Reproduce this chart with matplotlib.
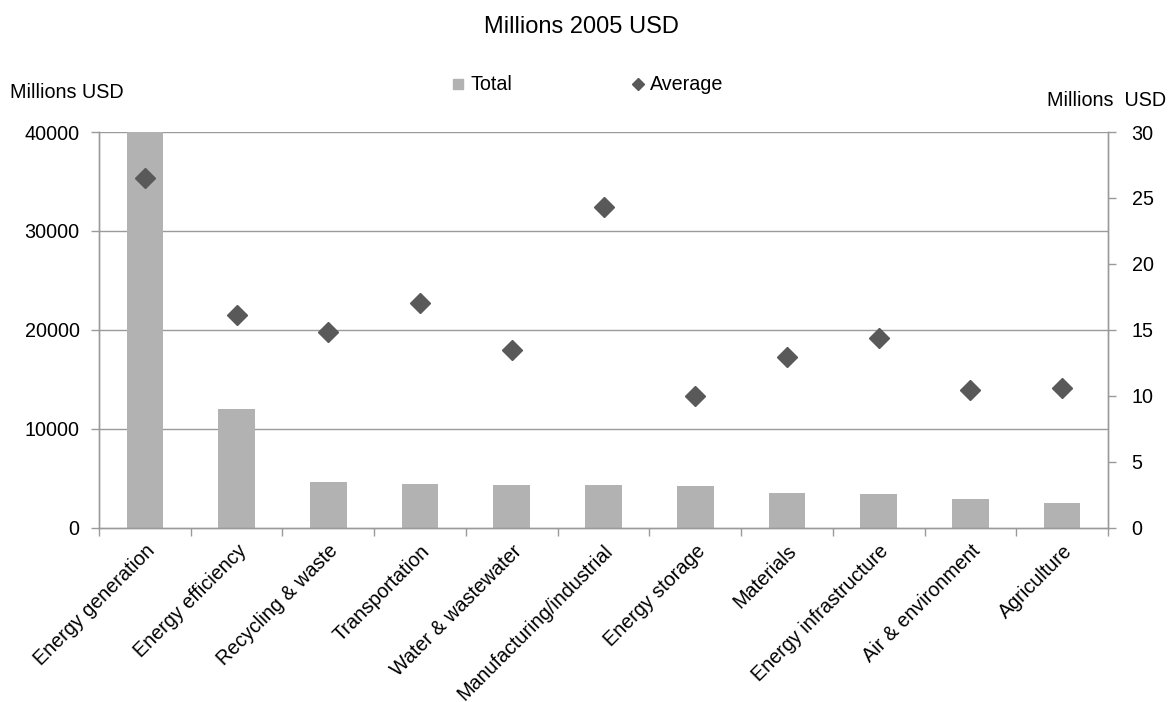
import matplotlib
matplotlib.use("Agg")
import matplotlib.pyplot as plt
from matplotlib.lines import Line2D
import numpy as np

plt.rcParams['font.family'] = ['Liberation Sans', 'DejaVu Sans']

categories = ["Energy generation", "Energy efficiency", "Recycling & waste", "Transportation",
              "Water & wastewater", "Manufacturing/industrial", "Energy storage", "Materials",
              "Energy infrastructure", "Air & environment", "Agriculture"]
total = [40000, 11940, 4580, 4350, 4250, 4250, 4150, 3500, 3370, 2860, 2490]
average = [26.5, 16.1, 14.8, 17.0, 13.45, 24.3, 10.0, 12.95, 14.35, 10.45, 10.6]
left_ticks = [0, 10000, 20000, 30000, 40000]
right_ticks = [0, 5, 10, 15, 20, 25, 30]

bar_color = "#b2b2b2"
dia_color = "#595959"
grid_color = "#9a9a9a"
fs = 14.2

fig = plt.figure(figsize=(11.71, 7.02), dpi=100)
ax = fig.add_axes([99/1171, 1-527.5/702, (1108-99)/1171, (527.5-132)/702])
x = np.arange(len(categories))
ax.bar(x, total, width=0.4, color=bar_color, zorder=2)
ax.set_ylim(0, 40000)
ax.set_xlim(-0.5, len(categories)-0.5)
ax.set_yticks(left_ticks)
ax.set_yticklabels([str(v) for v in left_ticks], fontsize=fs)
for v in left_ticks[1:]:
    ax.axhline(v, color=grid_color, lw=1.0, zorder=1)

ax.set_xticks(x)
ax.set_xticklabels(categories, rotation=45, ha='right', rotation_mode='anchor', fontsize=fs)
ax.tick_params(axis='x', which='major', length=0, pad=10)
ax.set_xticks(np.arange(-0.5, len(categories)), minor=True)
ax.tick_params(axis='x', which='minor', length=6, color=grid_color, width=1.0, direction='out')
ax.tick_params(axis='y', length=6, color=grid_color, width=1.0, pad=8)
for s in ['left', 'bottom', 'right']:
    ax.spines[s].set_color(grid_color)
    ax.spines[s].set_linewidth(1.0)
ax.spines['top'].set_visible(False)

ax2 = ax.twinx()
ax2.plot(x, average, linestyle='none', marker='D', markersize=9.8, color=dia_color, zorder=3)
ax2.set_ylim(0, 30)
ax2.set_yticks(right_ticks)
ax2.set_yticklabels([str(v) for v in right_ticks], fontsize=fs)
ax2.tick_params(axis='y', length=6, color=grid_color, width=1.0, pad=11)
for s in ['left', 'bottom', 'right']:
    ax2.spines[s].set_color(grid_color)
    ax2.spines[s].set_linewidth(1.0)
ax2.spines['top'].set_visible(False)

fig.text(581/1171, 1-27/702, "Millions 2005 USD", ha='center', va='center', fontsize=17)
fig.text(10/1171, 1-93/702, "Millions USD", ha='left', va='center', fontsize=fs)
fig.text(1166/1171, 1-100/702, "Millions  USD", ha='right', va='center', fontsize=fs)

handles = [Line2D([], [], linestyle='none', marker='s', markersize=7, color=bar_color),
           Line2D([], [], linestyle='none', marker='D', markersize=6, color=dia_color)]
fig.legend(handles, ["Total", "Average"], ncol=2, loc='center',
           bbox_to_anchor=(587/1171, 1-85/702), frameon=False, fontsize=fs,
           handlelength=0.8, handletextpad=0.2, columnspacing=6.0)

fig.savefig("out.png", dpi=100)
